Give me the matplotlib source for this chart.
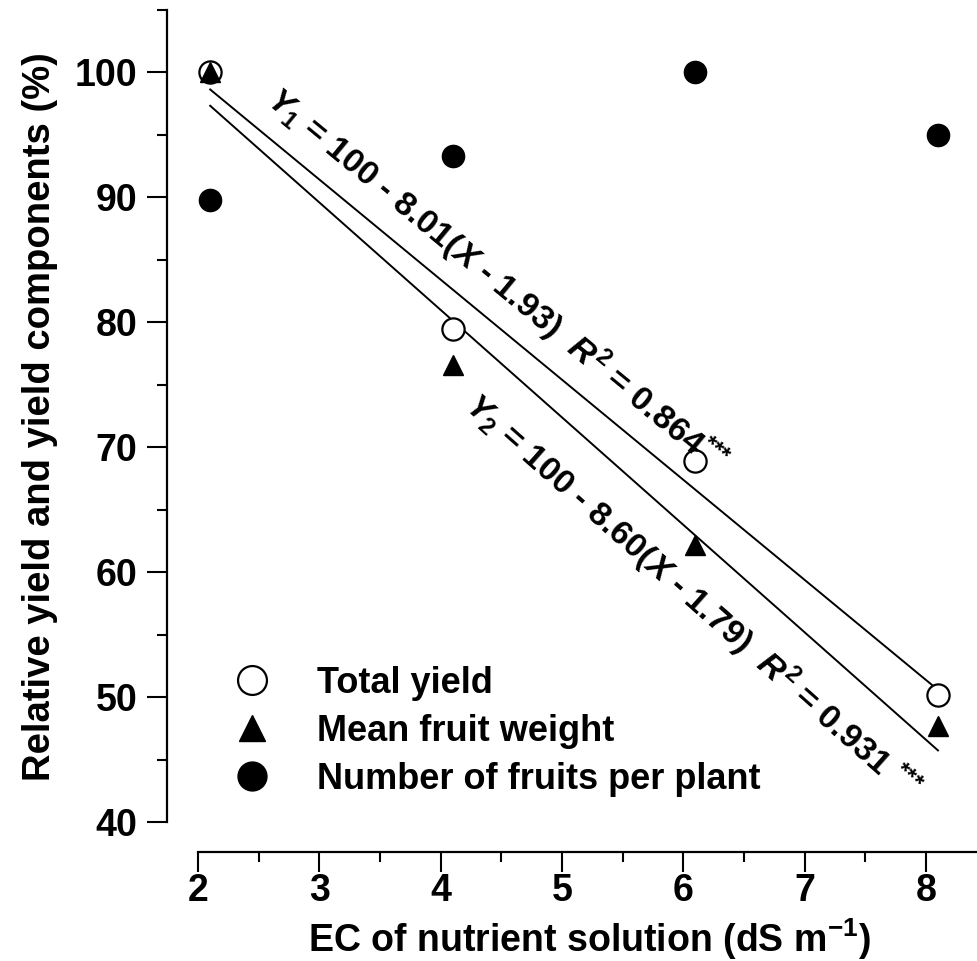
import matplotlib
matplotlib.use('Agg')
import matplotlib.pyplot as plt
import numpy as np

plt.rcParams['font.family'] = ['Liberation Sans', 'DejaVu Sans']
plt.rcParams['font.weight'] = 'bold'
plt.rcParams['axes.labelweight'] = 'bold'
plt.rcParams['mathtext.fontset'] = 'custom'
plt.rcParams['mathtext.rm'] = 'Liberation Sans:bold'
plt.rcParams['mathtext.it'] = 'Liberation Sans:italic:bold'
plt.rcParams['mathtext.bf'] = 'Liberation Sans:bold'

# data
ec = [2.1, 4.1, 6.1, 8.1]
total_yield = [100, 79.5, 68.9, 50.2]
fruit_weight = [100, 76.6, 62.2, 47.7]
fruit_number = [89.8, 93.3, 100, 95.0]

# fitted lines: Y = 100 - slope * (X - threshold)
fit1 = (8.01, 1.93)
fit2 = (8.60, 1.79)
fit_x = np.array([2.1, 8.1])

label1 = r'$Y_{\mathit{1}}$ = 100 - 8.01($X$ - 1.93)  $R^{2}$ = 0.864$^{{*}{*}{*}}$'
label2 = r'$Y_{\mathit{2}}$ = 100 - 8.60($X$ - 1.79)  $R^{2}$ = 0.931 $^{{*}{*}{*}}$'

fig = plt.figure(figsize=(9.77, 9.61), dpi=100)
ax = fig.add_axes([167 / 977, 109 / 961, 810 / 977, 842 / 961])
ax.set_xlim(1.744, 8.422)
ax.set_ylim(37.6, 105)

# regression lines
y1 = 100 - fit1[0] * (fit_x - fit1[1])
y2 = 100 - fit2[0] * (fit_x - fit2[1])
ax.plot(fit_x, y1, color='black', lw=1.4, zorder=2)
ax.plot(fit_x, y2, color='black', lw=1.4, zorder=2)

ax.plot(ec, total_yield, 'o', ms=16, mfc='white', mec='black', mew=1.6,
        ls='none', zorder=3, label='Total yield')
ax.plot(ec, fruit_weight, '^', ms=14, color='black', ls='none',
        zorder=4, label='Mean fruit weight')
ax.plot(ec, fruit_number, 'o', ms=16, color='black', ls='none',
        zorder=3, label='Number of fruits per plant')

# angle of the lines on screen, for the rotated equations
def screen_angle(yy):
    p = ax.transData.transform(np.column_stack([fit_x, yy]))
    return np.degrees(np.arctan2(p[1, 1] - p[0, 1], p[1, 0] - p[0, 0]))

ax.text(4.46, 83.3, label1, fontsize=24.5, rotation=screen_angle(y1),
        rotation_mode='anchor', ha='center', va='center')
ax.text(6.07, 58.0, label2, fontsize=24.5, rotation=screen_angle(y2),
        rotation_mode='anchor', ha='center', va='center')

# axes styling
for s in ['top', 'right']:
    ax.spines[s].set_visible(False)
ax.spines['left'].set_bounds(40, 105)
ax.spines['bottom'].set_bounds(2, 8.422)
ax.spines['left'].set_linewidth(1.6)
ax.spines['bottom'].set_linewidth(1.6)

ax.set_xticks(range(2, 9))
ax.set_xticks(np.arange(2.5, 8, 1), minor=True)
ax.set_yticks(range(40, 101, 10))
ax.set_yticks(range(45, 106, 10), minor=True)
ax.tick_params(which='major', length=14.4, width=1.5, labelsize=27)
ax.tick_params(which='minor', length=7.2, width=1.5)
ax.tick_params(axis='y', which='major', pad=7)
ax.tick_params(axis='x', which='major', pad=1)

ax.set_xlabel(r'EC of nutrient solution (dS m$^{-1}$)', fontsize=27)
ax.set_ylabel('Relative yield and yield components (%)', fontsize=27.5)
ax.xaxis.set_label_coords(0.521, -0.076)
ax.yaxis.set_label_coords(-0.1346, 0.5166)

ax.legend(loc='center left', bbox_to_anchor=(0.0821, 0.1437), frameon=False,
          fontsize=26, handlelength=1.0, handletextpad=1.3, labelspacing=0.36,
          borderpad=0, borderaxespad=0, markerscale=1.3, numpoints=1)

fig.savefig('out.png', dpi=100)
